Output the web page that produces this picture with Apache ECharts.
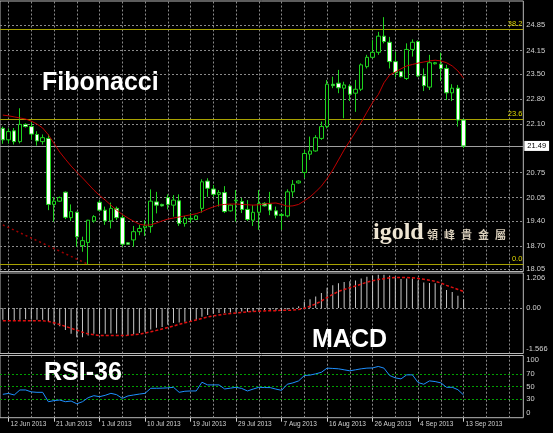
<!DOCTYPE html>
<html><head><meta charset="utf-8">
<script src="https://cdn.jsdelivr.net/npm/echarts@6/dist/echarts.min.js"></script>
<style>html,body{margin:0;padding:0;background:#000;overflow:hidden}#c{width:553px;height:433px}</style>
</head><body><div id="c"></div>
<script>
const dates = ['11 Jun 2013','12 Jun 2013','13 Jun 2013','14 Jun 2013','16 Jun 2013','17 Jun 2013','18 Jun 2013','19 Jun 2013','20 Jun 2013','21 Jun 2013','23 Jun 2013','24 Jun 2013','25 Jun 2013','26 Jun 2013','27 Jun 2013','28 Jun 2013','30 Jun 2013','1 Jul 2013','2 Jul 2013','3 Jul 2013','4 Jul 2013','5 Jul 2013','7 Jul 2013','8 Jul 2013','9 Jul 2013','10 Jul 2013','11 Jul 2013','12 Jul 2013','14 Jul 2013','15 Jul 2013','16 Jul 2013','17 Jul 2013','18 Jul 2013','19 Jul 2013','21 Jul 2013','22 Jul 2013','23 Jul 2013','24 Jul 2013','25 Jul 2013','26 Jul 2013','28 Jul 2013','29 Jul 2013','30 Jul 2013','31 Jul 2013','1 Aug 2013','2 Aug 2013','4 Aug 2013','5 Aug 2013','6 Aug 2013','7 Aug 2013','8 Aug 2013','9 Aug 2013','11 Aug 2013','12 Aug 2013','13 Aug 2013','14 Aug 2013','15 Aug 2013','16 Aug 2013','18 Aug 2013','19 Aug 2013','20 Aug 2013','21 Aug 2013','22 Aug 2013','23 Aug 2013','25 Aug 2013','26 Aug 2013','27 Aug 2013','28 Aug 2013','29 Aug 2013','30 Aug 2013','1 Sep 2013','2 Sep 2013','3 Sep 2013','4 Sep 2013','5 Sep 2013','6 Sep 2013','8 Sep 2013','9 Sep 2013','10 Sep 2013','11 Sep 2013','12 Sep 2013','13 Sep 2013'];

const openP = [21.98,21.66,21.91,21.61,22.09,22.03,21.81,21.61,21.70,19.86,
19.95,20.20,19.49,19.64,18.71,18.80,19.40,19.92,19.70,19.40,
19.75,19.49,18.79,18.87,19.10,19.21,19.24,19.93,19.86,20.05,
19.84,19.96,19.33,19.47,19.44,19.75,20.51,20.29,20.14,20.19,
19.68,19.96,19.94,19.72,19.42,19.64,19.89,19.87,19.68,19.55,
19.54,20.21,20.46,20.75,21.26,21.35,21.70,22.03,23.21,23.24,
23.10,23.16,22.96,23.07,23.70,23.96,24.10,24.55,24.38,23.84,
23.56,23.37,24.18,24.40,23.44,23.13,23.78,23.77,23.65,22.97,
23.10,22.21];
const closeP = [21.66,21.89,21.61,22.09,22.03,21.82,21.63,21.72,19.86,19.95,
20.05,19.50,19.66,18.96,18.85,19.42,19.52,19.70,19.40,19.75,
19.49,18.75,18.75,19.10,19.19,19.26,19.95,19.84,19.82,19.86,
19.98,19.33,19.47,19.45,19.54,20.49,20.31,20.14,20.19,19.66,
19.84,19.98,19.72,19.44,19.64,19.89,19.82,19.70,19.56,19.58,
20.21,20.42,20.51,21.28,21.35,21.72,22.03,23.21,23.17,23.11,
23.19,22.93,23.07,23.75,23.96,24.10,24.55,24.40,23.84,23.53,
23.42,24.18,24.38,23.44,23.17,23.81,23.81,23.65,22.97,23.10,
22.21,21.49];
const lowP = [21.55,21.56,21.53,21.56,22.00,21.66,21.50,21.53,19.70,19.38,
19.93,19.45,19.40,18.68,18.54,18.19,19.35,19.66,19.29,19.19,
19.42,18.68,18.73,18.68,19.00,18.98,19.07,19.61,19.80,19.72,
19.52,19.26,19.24,19.35,19.42,19.63,20.07,20.07,19.80,19.62,
19.66,19.38,19.62,19.40,19.26,19.15,19.80,19.56,19.47,19.15,
19.50,20.07,20.44,20.59,21.10,21.33,21.66,21.98,23.10,22.96,
22.26,22.74,22.44,23.02,23.65,23.93,24.03,24.35,23.65,23.40,
23.40,23.33,23.98,23.41,23.02,23.05,23.76,23.30,22.77,22.74,
22.03,21.43];
const highP = [22.03,21.98,21.99,22.54,22.12,22.15,21.90,21.81,21.81,20.07,
20.08,20.22,19.86,19.66,18.96,19.43,19.56,19.98,19.80,19.91,
19.80,19.56,18.81,19.26,19.29,19.42,20.28,20.21,19.88,20.14,
20.12,20.14,19.54,19.62,19.56,20.56,20.59,20.40,20.26,20.37,
19.86,20.26,20.04,19.98,19.84,20.26,19.92,20.21,19.80,19.62,
20.28,20.54,20.53,21.38,21.75,21.79,22.17,23.33,23.42,23.61,
23.28,23.21,23.33,23.79,24.03,24.44,24.67,25.08,24.53,24.12,
23.57,24.35,24.46,24.43,23.65,24.03,23.83,24.09,23.75,23.21,
23.19,22.24];
const maLine = [22.35,22.33,22.30,22.27,22.24,22.18,22.10,21.99,21.80,21.56,
21.32,21.12,20.93,20.76,20.60,20.43,20.26,20.11,19.98,19.84,
19.70,19.58,19.48,19.39,19.31,19.28,19.29,19.34,19.40,19.45,
19.48,19.51,19.54,19.57,19.60,19.66,19.73,19.79,19.84,19.86,
19.87,19.87,19.86,19.85,19.84,19.85,19.87,19.89,19.90,19.86,
19.81,19.82,19.86,19.96,20.07,20.21,20.37,20.58,20.82,21.10,
21.38,21.63,21.88,22.15,22.43,22.70,22.92,23.25,23.47,23.55,
23.64,23.72,23.76,23.80,23.83,23.86,23.88,23.86,23.81,23.72,
23.58,23.38];
const fibTrendIdx = [0, 15];
const fibTrendVal = [19.29, 18.19];
const macdVals = [-0.40,-0.41,-0.41,-0.40,-0.39,-0.39,-0.40,-0.40,-0.45,-0.57,
-0.63,-0.76,-0.89,-1.01,-1.01,-0.95,-0.89,-0.89,-0.89,-0.88,
-0.88,-0.92,-0.93,-0.90,-0.86,-0.82,-0.74,-0.68,-0.65,-0.58,
-0.52,-0.50,-0.47,-0.44,-0.40,-0.30,-0.24,-0.20,-0.17,-0.17,
-0.15,-0.13,-0.12,-0.13,-0.12,-0.09,-0.08,-0.08,-0.09,-0.10,
-0.05,0.02,0.06,0.22,0.30,0.40,0.52,0.70,0.78,0.85,
0.90,0.92,0.95,1.02,1.08,1.12,1.15,1.15,1.12,1.05,
1.00,1.02,1.02,0.95,0.88,0.86,0.85,0.78,0.62,0.55,
0.42,0.30];
const signalVals = [-0.44,-0.44,-0.44,-0.44,-0.44,-0.44,-0.44,-0.44,-0.46,-0.51,
-0.57,-0.63,-0.70,-0.76,-0.83,-0.89,-0.92,-0.95,-0.95,-0.95,
-0.95,-0.95,-0.94,-0.92,-0.90,-0.86,-0.82,-0.77,-0.72,-0.67,
-0.62,-0.56,-0.51,-0.46,-0.41,-0.36,-0.31,-0.27,-0.24,-0.21,
-0.19,-0.17,-0.15,-0.13,-0.12,-0.11,-0.10,-0.09,-0.09,-0.08,
-0.08,-0.07,-0.05,-0.01,0.06,0.14,0.24,0.36,0.47,0.57,
0.64,0.70,0.76,0.82,0.89,0.94,0.98,1.01,1.04,1.05,
1.05,1.05,1.04,1.02,0.99,0.96,0.92,0.86,0.78,0.71,
0.64,0.57];
const rsiVals = [37.6,39.0,36.5,44.6,44.6,41.5,40.8,40.8,25.7,27.5,
28.4,25.7,26.8,22.4,25.7,32.2,35.4,33.8,36.0,39.2,
37.0,31.0,35.0,36.5,38.0,39.2,47.3,47.3,47.5,48.0,
48.9,40.8,42.5,43.0,43.0,57.0,52.7,52.7,52.7,46.2,
47.5,48.9,47.0,43.0,46.0,48.9,48.5,48.4,46.0,44.0,
53.8,56.0,59.2,67.8,68.5,70.5,73.0,79.7,79.2,78.6,
77.0,75.4,77.0,78.6,79.7,80.0,82.4,79.7,67.8,64.0,
62.4,68.9,68.9,56.5,53.8,59.2,58.1,56.0,48.9,48.9,
45.0,36.5];

const priceTicks = [24.85,24.15,23.50,22.80,22.10,20.75,20.05,19.40,18.70,18.05];
const fibValues = [24.75, 22.23, 18.19];
const fibLabels = ['38.2','23.6','0.0'];
const lastPrice = 21.49;
const macdTicks = [1.206, 0.00, -1.566];
const macdTickLabels = ['1.206','0.00','-1.566'];
const rsiTicks = [100, 70, 50, 30, 0];
const rsiLevels = [70, 50, 30];
const brandText = 'igold';
const brandChars = ['領','峰','貴','金','屬'];

// layout
const futureBars = 10;
const nCats = dates.length + futureBars;
const bw = 5.712;
const gLeft = 0.675 - bw / 2;
const gWidth = nCats * bw;
const cats = dates.concat(Array.from({length: futureBars}, (_, k) => ' '.repeat(k + 1)));
const gridIdx = [];
for (let i = 1; i < nCats; i += 4) gridIdx.push(i);

const FONT = 'Liberation Sans';
const lblColor = '#d2d2d2';
const gridColor = '#8a8a8a';
const borderColor = '#b8b8b8';
const candleGreen = '#1ed21e';
const clear = 'rgba(0,0,0,0)';
const inset = v => v - Math.sign(v) * 0.002; // keep edge labels inside the panel extent

function vGrid() {
  return gridIdx.map(i => ({xAxis: i}));
}
// edge: 'top' pushes the label below the panel's upper edge, 'bottom' above the lower edge
function axisLbl(text, edge) {
  const t = edge === 'top' ? '\n' + text : edge === 'bottom' ? text + '\n' : text;
  return {show: true, position: 'end', formatter: t, color: lblColor, fontSize: 7.5, lineHeight: 9,
    fontFamily: FONT, distance: 3};
}

const chart = echarts.init(document.getElementById('c'), null, {renderer: 'canvas'});
const grids = [
  {left: gLeft, width: gWidth, top: 1, height: 270.5},
  {left: gLeft, width: gWidth, top: 273, height: 80.5},
  {left: gLeft, width: gWidth, top: 355.5, height: 62.2}
].map(g => Object.assign(g, {show: true, borderColor: borderColor, borderWidth: 1, backgroundColor: 'transparent'}));

const xAxes = [0, 1, 2].map(gi => ({
  type: 'category', gridIndex: gi, data: cats, boundaryGap: true,
  show: gi === 2,
  axisLine: {show: false},
  axisTick: {show: gi === 2, alignWithLabel: true, length: 4,
    interval: (idx) => idx < dates.length && idx % 8 === 1,
    lineStyle: {color: lblColor}},
  axisLabel: {show: gi === 2, align: 'left', color: lblColor, fontSize: 6.5, fontFamily: FONT,
    margin: 3, padding: [0, 0, 0, 2],
    interval: (idx) => idx < dates.length && idx % 8 === 1},
  splitLine: {show: false}
}));

const yAxes = [
  {type: 'value', gridIndex: 0, min: 17.99, max: 25.53, show: false, splitLine: {show: false}},
  {type: 'value', gridIndex: 1, min: -1.566, max: 1.206, show: false, splitLine: {show: false}},
  {type: 'value', gridIndex: 2, min: 0, max: 100, show: false, splitLine: {show: false}}
];

const dashed = {color: gridColor, type: [2, 2], width: 1};

const candleData = dates.map((d, i) => [openP[i], closeP[i], lowP[i], highP[i]]);
const fibTrend = dates.map((d, i) => {
  const k = fibTrendIdx.indexOf(i);
  return k >= 0 ? fibTrendVal[k] : null;
});

const series = [
  {type: 'line', xAxisIndex: 0, yAxisIndex: 0, data: [], silent: true,
    markLine: {silent: true, symbol: 'none', z: 1, animation: false,
      data: priceTicks.map(v => ({yAxis: v, lineStyle: dashed, label: axisLbl(v.toFixed(2))}))
        .concat(vGrid().map(o => Object.assign(o, {lineStyle: dashed, label: {show: false}})))}},
  {type: 'line', xAxisIndex: 0, yAxisIndex: 0, data: [], silent: true,
    markLine: {silent: true, symbol: 'none', z: 1, animation: false,
      data: fibValues.map((v, k) => ({yAxis: v, lineStyle: {color: '#a8a200', type: 'solid', width: 1.2},
        label: {show: true, position: 'insideEndTop', formatter: fibLabels[k], color: '#e0d800',
          fontSize: 7.5, fontFamily: FONT, distance: 1}}))
      .concat([{yAxis: lastPrice, lineStyle: {color: '#a0a0a0', type: 'solid', width: 1},
        label: {show: true, position: 'end', formatter: lastPrice.toFixed(2), color: '#000',
          backgroundColor: '#fff', fontSize: 7.5, fontFamily: FONT, distance: 1, padding: [1, 3]}}])}},
  {type: 'candlestick', name: 'XAGUSD', xAxisIndex: 0, yAxisIndex: 0, data: candleData, barWidth: 4, z: 3,
    itemStyle: {color: '#000', color0: '#fff', borderColor: candleGreen, borderColor0: candleGreen, borderWidth: 1}},
  {type: 'line', name: 'MA', xAxisIndex: 0, yAxisIndex: 0, data: maLine, symbol: 'none', z: 4,
    lineStyle: {color: '#c00000', width: 1}},
  {type: 'line', name: 'Fib', xAxisIndex: 0, yAxisIndex: 0, data: fibTrend, symbol: 'none', connectNulls: true, z: 4,
    lineStyle: {color: '#a00000', width: 1.5, type: [2, 3]}},
  {type: 'line', xAxisIndex: 1, yAxisIndex: 1, data: [], silent: true,
    markLine: {silent: true, symbol: 'none', z: 1, animation: false,
      data: [{yAxis: macdTicks[1], lineStyle: dashed, label: axisLbl(macdTickLabels[1])},
             {yAxis: inset(macdTicks[0]), lineStyle: {color: clear}, label: axisLbl(macdTickLabels[0], 'top')},
             {yAxis: inset(macdTicks[2]), lineStyle: {color: clear}, label: axisLbl(macdTickLabels[2], 'bottom')}]
        .concat(vGrid().map(o => Object.assign(o, {lineStyle: dashed, label: {show: false}})))}},
  {type: 'bar', name: 'MACD', xAxisIndex: 1, yAxisIndex: 1, data: macdVals, barWidth: 1, z: 3,
    itemStyle: {color: '#c8c8c8'}},
  {type: 'line', name: 'Signal', xAxisIndex: 1, yAxisIndex: 1, data: signalVals, symbol: 'none', z: 4,
    lineStyle: {color: '#e01010', width: 1.5, type: [3, 2]}},
  {type: 'line', xAxisIndex: 2, yAxisIndex: 2, data: [], silent: true,
    markLine: {silent: true, symbol: 'none', z: 1, animation: false,
      data: rsiLevels.map(v => ({yAxis: v, lineStyle: {color: '#00a000', type: [2, 2], width: 1}, label: axisLbl(String(v))}))
        .concat([{yAxis: inset(rsiTicks[0]), lineStyle: {color: clear}, label: axisLbl(String(rsiTicks[0]), 'top')},
                 {yAxis: rsiTicks[4] + 0.01, lineStyle: {color: clear}, label: axisLbl(String(rsiTicks[4]), 'bottom')}])
        .concat(vGrid().map(o => Object.assign(o, {lineStyle: dashed, label: {show: false}})))}},
  {type: 'line', name: 'RSI-36', xAxisIndex: 2, yAxisIndex: 2, data: rsiVals, symbol: 'none', z: 4,
    lineStyle: {color: '#1e90ff', width: 1}}
];

const graphics = [
  {type: 'text', left: 42, top: 71, z: 10, style: {text: 'Fibonacci', fill: '#fff', font: 'bold 25px "Liberation Sans"'}},
  {type: 'text', left: 312, top: 328, z: 10, style: {text: 'MACD', fill: '#fff', font: 'bold 25px "Liberation Sans"'}},
  {type: 'text', left: 44, top: 361, z: 10, style: {text: 'RSI-36', fill: '#fff', font: 'bold 25px "Liberation Sans"'}},
  {type: 'text', left: 373, top: 221, z: 10, style: {text: brandText, fill: '#eee5d3', font: 'bold 24px "Liberation Serif"'}}
].concat(brandChars.map((ch, k) => ({type: 'text', left: 427 + k * 17, top: 229, z: 10,
  style: {text: ch, fill: '#d9cfbb', font: 'bold 11px "Noto Sans CJK TC"'}})));

chart.setOption({
  backgroundColor: '#000',
  animation: false,
  grid: grids,
  xAxis: xAxes,
  yAxis: yAxes,
  series: series,
  graphic: graphics
});
</script></body></html>
